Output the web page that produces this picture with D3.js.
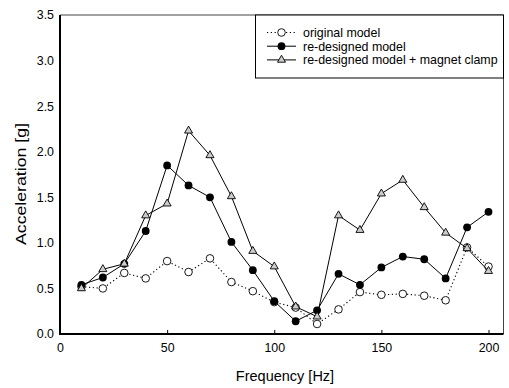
<!DOCTYPE html>
<html>
<head>
<meta charset="utf-8">
<script src="https://cdn.jsdelivr.net/npm/d3@7"></script>
<style>
  body { margin: 0; background: #fff; }
  text { font-family: "Liberation Sans", Arial, sans-serif; fill: #000; }
</style>
</head>
<body>
<div id="chart"></div>
<script>
var freq = [10, 20, 30, 40, 50, 60, 70, 80, 90, 100, 110, 120, 130, 140, 150, 160, 170, 180, 190, 200];
var original = [0.52, 0.50, 0.67, 0.61, 0.80, 0.68, 0.83, 0.57, 0.47, 0.35, 0.29, 0.11, 0.27, 0.46, 0.43, 0.44, 0.42, 0.37, 0.95, 0.74];
var redesigned = [0.54, 0.62, 0.77, 1.13, 1.85, 1.63, 1.50, 1.01, 0.70, 0.36, 0.14, 0.26, 0.66, 0.54, 0.73, 0.85, 0.82, 0.61, 1.17, 1.34];
var clamp = [0.50, 0.71, 0.77, 1.30, 1.43, 2.23, 1.96, 1.51, 0.91, 0.74, 0.30, 0.19, 1.30, 1.14, 1.54, 1.69, 1.39, 1.11, 0.94, 0.69];
var xTicks = [0, 50, 100, 150, 200];
var yTicks = [0, 0.5, 1.0, 1.5, 2.0, 2.5, 3.0, 3.5];
var legendLabels = ["original model", "re-designed model", "re-designed model + magnet clamp"];

function init() {
    var w = 509, h = 388;
    var pLeft = 60, pRight = 503.5, pTop = 15, pBottom = 334;

    var svg = d3.select("#chart").append("svg")
        .attr("width", w)
        .attr("height", h);

    var x = d3.scaleLinear().domain([0, 207]).range([pLeft, pRight]);
    var y = d3.scaleLinear().domain([0, 3.5]).range([pBottom, pTop]);

    // top and right frame
    svg.append("path")
        .attr("d", "M" + pLeft + "," + pTop + "H" + pRight + "V" + pBottom)
        .attr("fill", "none")
        .attr("stroke", "#444")
        .attr("stroke-width", 1);

    // x axis
    var xAxis = svg.append("g")
        .attr("transform", "translate(0," + pBottom + ")")
        .call(d3.axisBottom(x).tickValues(xTicks).tickSizeInner(-4).tickSizeOuter(0).tickPadding(9));
    xAxis.select(".domain").attr("stroke-width", 2).attr("d", "M" + pLeft + ",0H" + pRight);
    xAxis.selectAll("text").style("font-size", "12.4px").attr("font-family", null);

    // y axis
    var yAxis = svg.append("g")
        .attr("transform", "translate(" + pLeft + ",0)")
        .call(d3.axisLeft(y).tickValues(yTicks).tickFormat(d3.format(".1f")).tickSize(0).tickPadding(6));
    yAxis.select(".domain").attr("stroke-width", 2).attr("d", "M0," + pTop + "V" + (pBottom + 1));
    yAxis.selectAll("text").style("font-size", "12.4px").attr("font-family", null);

    // axis titles
    svg.append("text")
        .attr("x", 285).attr("y", 381)
        .attr("text-anchor", "middle")
        .style("font-size", "14.5px")
        .text("Frequency [Hz]");

    svg.append("text")
        .attr("transform", "translate(26,184) rotate(-90)")
        .attr("text-anchor", "middle")
        .attr("textLength", 122)
        .attr("lengthAdjust", "spacingAndGlyphs")
        .style("font-size", "14.5px")
        .text("Acceleration [g]");

    var line = d3.line()
        .x(function(d) { return x(d[0]); })
        .y(function(d) { return y(d[1]); });

    function pairs(vals) {
        return freq.map(function(f, i) { return [f, vals[i]]; });
    }

    var triangle = d3.symbol().type(d3.symbolTriangle).size(28);

    // original model - dotted, open circles
    svg.append("path")
        .datum(pairs(original))
        .attr("d", line)
        .attr("fill", "none")
        .attr("stroke", "#000")
        .attr("stroke-width", 1.1)
        .attr("stroke-dasharray", "1.2,2.6");
    svg.append("g").selectAll("circle")
        .data(pairs(original))
        .enter().append("circle")
        .attr("cx", function(d) { return x(d[0]); })
        .attr("cy", function(d) { return y(d[1]); })
        .attr("r", 3.8)
        .attr("fill", "#fff")
        .attr("stroke", "#000")
        .attr("stroke-width", 0.9);

    // re-designed model - solid, filled circles
    svg.append("path")
        .datum(pairs(redesigned))
        .attr("d", line)
        .attr("fill", "none")
        .attr("stroke", "#000")
        .attr("stroke-width", 1);
    svg.append("g").selectAll("circle")
        .data(pairs(redesigned))
        .enter().append("circle")
        .attr("cx", function(d) { return x(d[0]); })
        .attr("cy", function(d) { return y(d[1]); })
        .attr("r", 3.9)
        .attr("fill", "#000");

    // with magnet clamp - solid, triangles
    svg.append("path")
        .datum(pairs(clamp))
        .attr("d", line)
        .attr("fill", "none")
        .attr("stroke", "#000")
        .attr("stroke-width", 1);
    svg.append("g").selectAll("path")
        .data(pairs(clamp))
        .enter().append("path")
        .attr("d", triangle)
        .attr("transform", function(d) { return "translate(" + x(d[0]) + "," + y(d[1]) + ")"; })
        .attr("fill", "#ccc")
        .attr("stroke", "#000")
        .attr("stroke-width", 0.9);

    // legend
    var lg = svg.append("g");
    lg.append("rect")
        .attr("x", 255.5).attr("y", pTop)
        .attr("width", pRight - 255.5).attr("height", 63)
        .attr("fill", "#fff")
        .attr("stroke", "#000")
        .attr("stroke-width", 1);

    var rows = lg.selectAll("g.row")
        .data(legendLabels)
        .enter().append("g")
        .attr("class", "row")
        .attr("transform", function(d, i) { return "translate(0," + (32.5 + i * 13.7) + ")"; });

    rows.append("line")
        .attr("x1", 267).attr("x2", 296)
        .attr("stroke", "#000")
        .attr("stroke-width", function(d, i) { return i === 0 ? 1.1 : 1; })
        .attr("stroke-dasharray", function(d, i) { return i === 0 ? "1.2,2.6" : null; });

    rows.each(function(d, i) {
        var g = d3.select(this);
        if (i === 0) {
            g.append("circle").attr("cx", 281.5).attr("r", 3.8)
                .attr("fill", "#fff").attr("stroke", "#000").attr("stroke-width", 0.9);
        } else if (i === 1) {
            g.append("circle").attr("cx", 281.5).attr("r", 3.9).attr("fill", "#000");
        } else {
            g.append("path").attr("d", triangle).attr("transform", "translate(281.5,0)")
                .attr("fill", "#ccc").attr("stroke", "#000").attr("stroke-width", 0.9);
        }
    });

    rows.append("text")
        .attr("x", 303)
        .attr("dy", "0.35em")
        .style("font-size", "12.4px")
        .text(function(d) { return d; });
}

window.onload = init;
</script>
</body>
</html>
